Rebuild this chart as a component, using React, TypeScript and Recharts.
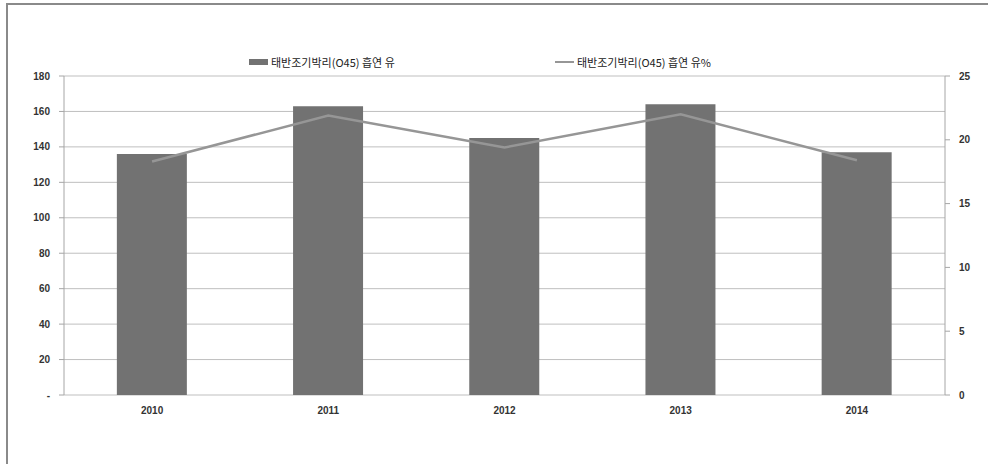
import React from "react";
import { ComposedChart, Bar, Line, XAxis, YAxis, CartesianGrid } from "recharts";

const years = ["2010", "2011", "2012", "2013", "2014"];
const counts = [136, 163, 145, 164, 137];
const percents = [18.3, 21.9, 19.4, 22.0, 18.4];
const leftTicks = [0, 20, 40, 60, 80, 100, 120, 140, 160, 180];
const rightTicks = [0, 5, 10, 15, 20, 25];
const edgeTicks = [0, 1, 2, 3, 4, 5];

const barName = "태반조기박리(O45) 흡연 유";
const lineName = "태반조기박리(O45) 흡연 유%";

const data = years.map((y, i) => ({ year: y, count: counts[i], pct: percents[i] }));

const tickFont = { fontFamily: "'Liberation Sans', Arial, sans-serif", fontSize: 10, fontWeight: 700, fill: "#333" };

const LegendBox = () => (
  <div style={{ position: "absolute", left: 249, top: 54, display: "flex", alignItems: "center", fontFamily: "'Noto Sans CJK KR', sans-serif", fontSize: 11, lineHeight: "16px", color: "#222" }}>
    <div style={{ display: "flex", alignItems: "center", width: 306 }}>
      <span style={{ display: "inline-block", width: 19, height: 6, background: "#727272", marginRight: 3 }} />
      <span>{barName}</span>
    </div>
    <div style={{ display: "flex", alignItems: "center" }}>
      <span style={{ display: "inline-block", width: 19, height: 2, background: "#969696", marginRight: 3 }} />
      <span>{lineName}</span>
    </div>
  </div>
);

export default function App() {
  return (
    <div style={{ position: "absolute", left: 0, top: 0, width: 988, height: 464, background: "#fff", overflow: "hidden" }}>
      <div style={{ position: "absolute", left: 6, top: 3, width: 1000, height: 500, border: "2px solid #8a8a8a", boxSizing: "border-box" }} />
      <div style={{ position: "absolute", left: 0, top: 0 }}>
        <ComposedChart width={988} height={464} data={data} margin={{ top: 76, right: 3, bottom: 0, left: 0 }} barCategoryGap="30%">
          <CartesianGrid vertical={false} stroke="#bfbfbf" strokeWidth={1} yAxisId="left" />
          <XAxis xAxisId="edges" type="number" domain={[0, 5]} ticks={edgeTicks} height={0} axisLine={{ stroke: "#a6a6a6" }} tickLine={{ stroke: "#a6a6a6" }} tickSize={5} tickFormatter={() => ""} allowDataOverflow />
          <XAxis xAxisId="cat" dataKey="year" height={69} axisLine={false} tickLine={false} tick={tickFont} dy={4} interval={0} />
          <YAxis yAxisId="left" orientation="left" width={64} domain={[0, 180]} ticks={leftTicks} axisLine={{ stroke: "#a6a6a6" }} tickLine={{ stroke: "#a6a6a6" }} tickSize={5} tickMargin={9} tick={tickFont} tickFormatter={(v: number) => (v === 0 ? "-" : String(v))} />
          <YAxis yAxisId="right" orientation="right" width={40} domain={[0, 25]} ticks={rightTicks} axisLine={{ stroke: "#a6a6a6" }} tickLine={{ stroke: "#a6a6a6" }} tickSize={5} tickMargin={9} tick={{ ...tickFont, textAnchor: "start" }} />
          <Bar xAxisId="cat" yAxisId="left" dataKey="count" name={barName} fill="#727272" isAnimationActive={false} />
          <Line xAxisId="cat" yAxisId="right" dataKey="pct" name={lineName} stroke="#969696" strokeWidth={2.5} dot={false} activeDot={false} isAnimationActive={false} />
        </ComposedChart>
      </div>
      <LegendBox />
    </div>
  );
}
